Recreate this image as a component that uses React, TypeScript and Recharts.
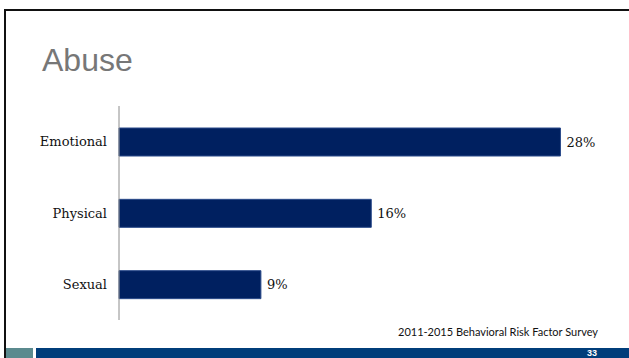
import React from "react";
import { BarChart, Bar, XAxis, YAxis, LabelList } from "recharts";

const categories = ["Emotional", "Physical", "Sexual"];
const percents = [28, 16, 9];
const xDomain = [0, 30];
const sourceNote = "2011-2015 Behavioral Risk Factor Survey";
const slideNumber = "33";

const data = categories.map((name, i) => ({ name, value: percents[i] }));

const serif = "'DejaVu Serif', serif";

// value label at the end of each bar, in the same serif as the categories
const PercentLabel = (props: any) => {
    const { x, y, width, height, value } = props;
    return (
        <text
            x={Number(x) + Number(width) + 6}
            y={Number(y) + Number(height) / 2}
            dominantBaseline="central"
            fill="#111"
            fontSize={13}
            fontFamily={serif}
        >
            {value}%
        </text>
    );
};

export default function App() {
    return (
        <div
            style={{
                position: "relative",
                width: 629,
                height: 358,
                background: "#fff",
                overflow: "hidden",
            }}
        >
            <style>{`body{margin:0}`}</style>
            {/* slide frame */}
            <div style={{ position: "absolute", left: 4, top: 9, width: 625, height: 2, background: "#111" }} />
            <div style={{ position: "absolute", left: 4, top: 9, width: 2, height: 349, background: "#111" }} />

            <div
                style={{
                    position: "absolute",
                    left: 42,
                    top: 42,
                    fontFamily: "'Liberation Sans', Arial, sans-serif",
                    fontSize: 32,
                    color: "#777",
                    lineHeight: "36px",
                }}
            >
                Abuse
            </div>

            <div style={{ position: "absolute", left: 0, top: 0 }}>
                <BarChart
                    width={629}
                    height={358}
                    data={data}
                    layout="vertical"
                    margin={{ top: 106, right: 37, bottom: 38, left: 0 }}
                    barCategoryGap="60%"
                >
                    <XAxis type="number" domain={xDomain} hide />
                    <YAxis
                        type="category"
                        dataKey="name"
                        width={119}
                        tickLine={false}
                        tickMargin={6}
                        axisLine={{ stroke: "#8c8c8c", strokeWidth: 1 }}
                        tick={{ fill: "#111", fontSize: 13, fontFamily: serif }}
                    />
                    <Bar
                        dataKey="value"
                        fill="#002060"
                        stroke="#2a4a8a"
                        strokeWidth={1}
                        barSize={28}
                        isAnimationActive={false}
                    >
                        <LabelList dataKey="value" content={<PercentLabel />} />
                    </Bar>
                </BarChart>
            </div>

            <div
                style={{
                    position: "absolute",
                    right: 31,
                    top: 325,
                    fontFamily: "Lato, 'Open Sans', sans-serif",
                    fontSize: 11,
                    color: "#111",
                    whiteSpace: "nowrap",
                }}
            >
                {sourceNote}
            </div>

            {/* footer bands */}
            <div style={{ position: "absolute", left: 6, top: 348, width: 27, height: 10, background: "#5b8a8e" }} />
            <div style={{ position: "absolute", left: 36, top: 348, width: 593, height: 10, background: "#003d7a" }} />
            <div
                style={{
                    position: "absolute",
                    right: 32,
                    top: 348,
                    fontFamily: "'Liberation Sans', Arial, sans-serif",
                    fontWeight: "bold",
                    fontSize: 9,
                    lineHeight: "10px",
                    color: "#fff",
                }}
            >
                {slideNumber}
            </div>
        </div>
    );
}
